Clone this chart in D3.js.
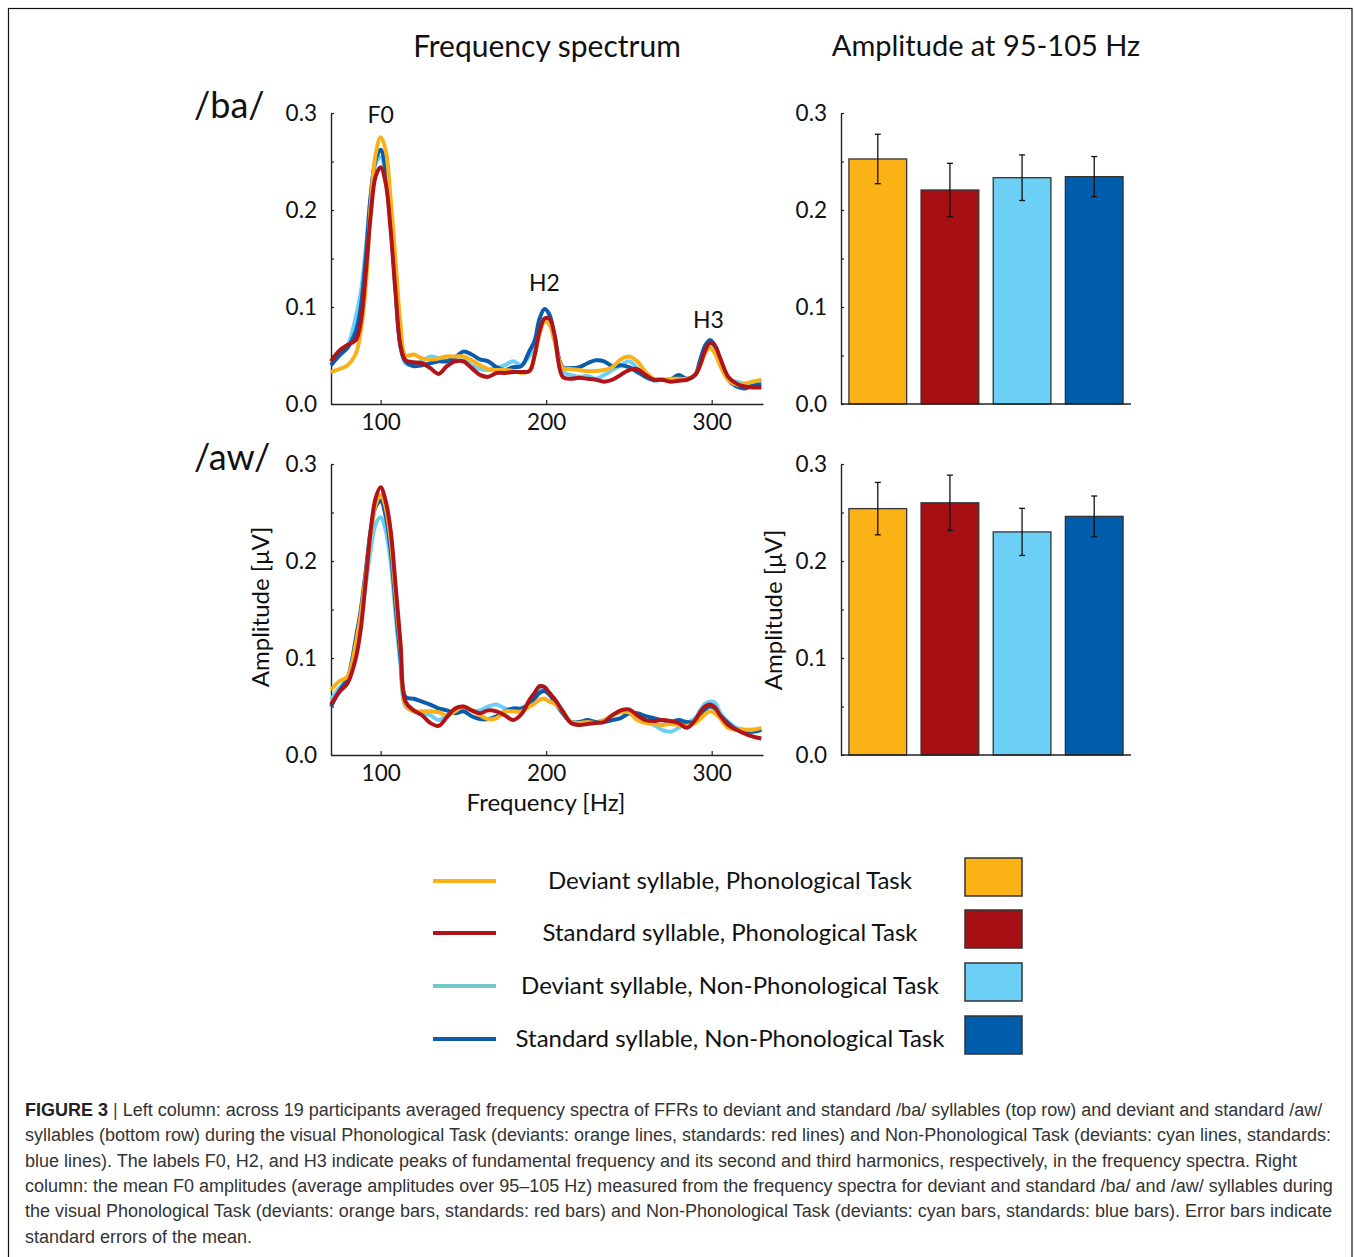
<!DOCTYPE html>
<html>
<head>
<meta charset="utf-8">
<script src="https://cdn.jsdelivr.net/npm/d3@7"></script>
<style>
  html, body { margin: 0; padding: 0; background: #fff; }
  svg { display: block; }
  .chart text { font-family: Lato, "Noto Sans", sans-serif; fill: #111; }
  .cap text { font-family: "Liberation Sans", Arial, sans-serif; fill: #333; }
</style>
</head>
<body>
<svg id="fig" width="1354" height="1257"></svg>
<script>
// ---------------- DATA ----------------
const freqs = [70,75,80,85,88,91,94,97,100,103,106,109,112,115,
  120,125,130,135,140,145,150,155,160,165,170,175,180,185,190,
  193,196,199,202,205,
  210,215,220,225,230,235,240,245,250,255,260,265,270,275,280,285,290,
  293,296,299,302,305,
  310,315,320,325,330];

// /ba/ spectra
const baDevPhon = [.033,.036,.040,.052,.075,.120,.205,.258,.275,.262,.212,.148,.082,.050,
  .051,.047,.046,.047,.049,.049,.049,.045,.040,.036,.035,.035,.034,.032,.035,
  .050,.072,.085,.082,.065,
  .037,.036,.035,.034,.034,.035,.038,.046,.049,.044,.033,.026,.025,.026,.026,.026,.030,
  .040,.052,.058,.052,.040,
  .025,.020,.021,.023,.025];
const baStdPhon = [.044,.055,.061,.066,.085,.135,.195,.235,.244,.228,.180,.115,.060,.045,
  .043,.042,.037,.031,.039,.044,.044,.037,.030,.028,.032,.032,.033,.033,.034,
  .050,.075,.088,.088,.072,
  .028,.026,.027,.026,.025,.023,.025,.030,.035,.036,.030,.025,.025,.023,.024,.025,.030,
  .040,.055,.063,.060,.048,
  .028,.021,.018,.017,.017];
const baDevNon = [.042,.052,.060,.090,.115,.160,.215,.248,.255,.235,.185,.115,.058,.042,
  .040,.044,.049,.047,.044,.044,.045,.040,.036,.035,.037,.040,.044,.040,.050,
  .060,.080,.088,.084,.066,
  .033,.030,.028,.029,.026,.030,.035,.040,.044,.037,.028,.024,.025,.024,.025,.025,.030,
  .045,.057,.062,.057,.042,
  .026,.023,.021,.023,.023];
const baStdNon = [.040,.050,.058,.075,.100,.150,.215,.252,.262,.242,.190,.120,.060,.044,
  .039,.040,.042,.044,.044,.048,.054,.051,.046,.044,.038,.035,.038,.039,.055,
  .065,.088,.098,.092,.070,
  .038,.037,.038,.042,.045,.044,.039,.040,.038,.033,.028,.025,.025,.025,.030,.026,.030,
  .045,.060,.066,.060,.045,
  .025,.018,.016,.019,.020];

// /aw/ spectra
const awDevPhon = [.067,.076,.081,.115,.145,.185,.228,.258,.268,.255,.222,.165,.110,.052,
  .045,.045,.045,.044,.041,.045,.050,.046,.041,.037,.038,.045,.045,.045,.050,
  .053,.057,.058,.055,.053,
  .045,.034,.033,.034,.033,.036,.041,.044,.044,.036,.033,.032,.031,.032,.031,.030,.033,
  .037,.042,.045,.043,.038,
  .028,.026,.026,.026,.028];
const awStdPhon = [.052,.065,.074,.100,.130,.180,.232,.265,.276,.262,.232,.175,.115,.055,
  .046,.041,.033,.030,.039,.048,.050,.046,.043,.046,.045,.041,.036,.042,.057,
  .064,.071,.070,.064,.058,
  .045,.033,.031,.032,.033,.034,.041,.046,.047,.041,.036,.035,.036,.035,.033,.028,.036,
  .044,.050,.052,.049,.041,
  .031,.026,.022,.019,.017];
const awDevNon = [.057,.069,.079,.110,.140,.175,.212,.238,.245,.232,.200,.145,.092,.050,
  .045,.043,.041,.036,.041,.046,.048,.046,.046,.050,.052,.048,.046,.045,.055,
  .060,.067,.068,.064,.057,
  .046,.034,.033,.034,.034,.036,.041,.044,.043,.038,.036,.031,.026,.024,.028,.033,.038,
  .046,.053,.055,.054,.044,
  .034,.028,.026,.026,.026];
const awStdNon = [.050,.066,.079,.120,.150,.190,.232,.256,.262,.247,.212,.155,.100,.060,
  .058,.055,.052,.048,.046,.043,.045,.040,.037,.037,.040,.045,.048,.048,.053,
  .058,.064,.066,.062,.055,
  .043,.034,.034,.036,.034,.034,.036,.038,.043,.043,.040,.038,.036,.034,.036,.034,.034,
  .040,.047,.050,.048,.041,
  .033,.026,.025,.024,.026];

// mean F0 amplitude (95-105 Hz) and standard errors
const conditions = ["Deviant syllable, Phonological Task", "Standard syllable, Phonological Task",
  "Deviant syllable, Non-Phonological Task", "Standard syllable, Non-Phonological Task"];
const baMeans = [0.2526, 0.2206, 0.2333, 0.2344];
const baSE    = [0.0255, 0.0275, 0.0235, 0.0207];
const awMeans = [0.254, 0.260, 0.230, 0.246];
const awSE    = [0.027, 0.0285, 0.0243, 0.021];

const lineColors = ["#f9b11a", "#b01419", "#6dcff6", "#0a5dab"];
const legendLineColors = ["#f9b11a", "#b01419", "#72c9c8", "#0a5dab"];
const barColors = ["#fbb217", "#a60f14", "#6ccff5", "#005dab"];

const yTicks = [0, 0.05, 0.1, 0.15, 0.2, 0.25, 0.3];
const xTicks = [100, 200, 300];
const peakLabels = [{t:"F0", f:100, v:0.298}, {t:"H2", f:199, v:0.125}, {t:"H3", f:298, v:0.087}];

// ---------------- DRAW ----------------
const svg = d3.select("#fig");
svg.append("rect").attr("x",0).attr("y",0).attr("width",1354).attr("height",1257).attr("fill","#fff");
svg.append("rect").attr("x",8.5).attr("y",8.5).attr("width",1343.5).attr("height",1262)
  .attr("fill","none").attr("stroke","#111").attr("stroke-width",1.2);

const chart = svg.append("g").attr("class","chart");

const x = d3.scaleLinear().domain([70, 331]).range([331, 763]);
const yTop = d3.scaleLinear().domain([0, 0.3]).range([404, 113]);
const yBot = d3.scaleLinear().domain([0, 0.3]).range([755, 464]);
const xb = d3.scaleBand().domain(d3.range(4)).range([841, 1131]).paddingInner(0.2).paddingOuter(0.11);

const fmtY = d => (Math.abs(d*10 - Math.round(d*10)) < 1e-6) ? d.toFixed(1) : "";

function styleAxis(g) {
  g.selectAll("path.domain").attr("stroke","#222").attr("stroke-width",1.4);
  g.selectAll(".tick line").attr("stroke","#222").attr("stroke-width",1.2);
  g.selectAll("text").attr("font-family","Lato, 'Noto Sans', sans-serif").attr("fill","#111");
}

function spectrumPanel(y, series, axisX) {
  const g = chart.append("g");
  const ya = g.append("g").attr("transform",`translate(${axisX},0)`)
    .call(d3.axisLeft(y).tickValues(yTicks).tickFormat(fmtY).tickSizeInner(-3).tickSizeOuter(0).tickPadding(14));
  ya.selectAll("text").attr("font-size",22.5);
  styleAxis(ya);
  const xa = g.append("g").attr("transform",`translate(0,${y(0)})`)
    .call(d3.axisBottom(x).tickValues(xTicks).tickSizeInner(-4).tickSizeOuter(0).tickPadding(10));
  xa.selectAll("text").attr("font-size",22.5);
  styleAxis(xa);
  const line = d3.line().x((d,i)=>x(freqs[i])).y(d=>y(d)).curve(d3.curveCatmullRom.alpha(0.5));
  const order = [2,3,0,1];
  order.forEach(k => {
    g.append("path").attr("d", line(series[k])).attr("fill","none")
      .attr("stroke", lineColors[k]).attr("stroke-width",4).attr("stroke-linejoin","round");
  });
  return g;
}

function barPanel(y, means, se) {
  const g = chart.append("g");
  const ya = g.append("g").attr("transform",`translate(841,0)`)
    .call(d3.axisLeft(y).tickValues(yTicks).tickFormat(fmtY).tickSizeInner(-3).tickSizeOuter(0).tickPadding(14));
  ya.selectAll("text").attr("font-size",22.5);
  styleAxis(ya);
  g.selectAll("rect.bar").data(means).join("rect")
    .attr("x",(d,i)=>xb(i)).attr("width",xb.bandwidth())
    .attr("y",d=>y(d)).attr("height",d=>y(0)-y(d))
    .attr("fill",(d,i)=>barColors[i]).attr("stroke","#333").attr("stroke-width",1.3);
  g.append("line").attr("x1",841).attr("x2",1131).attr("y1",y(0)).attr("y2",y(0))
    .attr("stroke","#222").attr("stroke-width",1.4);
  means.forEach((m,i)=>{
    const cx = xb(i) + xb.bandwidth()/2;
    const eb = g.append("g").attr("stroke","#111").attr("stroke-width",1.3);
    eb.append("line").attr("x1",cx).attr("x2",cx).attr("y1",y(m-se[i])).attr("y2",y(m+se[i]));
    eb.append("line").attr("x1",cx-3).attr("x2",cx+3).attr("y1",y(m-se[i])).attr("y2",y(m-se[i]));
    eb.append("line").attr("x1",cx-3).attr("x2",cx+3).attr("y1",y(m+se[i])).attr("y2",y(m+se[i]));
  });
}

spectrumPanel(yTop, [baDevPhon, baStdPhon, baDevNon, baStdNon], 331);
spectrumPanel(yBot, [awDevPhon, awStdPhon, awDevNon, awStdNon], 331);
barPanel(yTop, baMeans, baSE);
barPanel(yBot, awMeans, awSE);

peakLabels.forEach(p => {
  chart.append("text").attr("x", x(p.f)).attr("y", yTop(p.v)).attr("dy","0.35em")
    .attr("text-anchor","middle").attr("font-size",23).text(p.t);
});

chart.append("text").attr("x",547).attr("y",46).attr("dy","0.35em").attr("text-anchor","middle")
  .attr("font-size",30).text("Frequency spectrum");
chart.append("text").attr("x",986).attr("y",46).attr("dy","0.35em").attr("text-anchor","middle")
  .attr("font-size",29).text("Amplitude at 95-105 Hz");
chart.append("text").attr("x",194).attr("y",105).attr("dy","0.35em").attr("font-size",36).text("/ba/");
chart.append("text").attr("x",194).attr("y",457).attr("dy","0.35em").attr("font-size",36).text("/aw/");

chart.append("text").attr("transform","translate(261,607) rotate(-90)").attr("dy","0.35em")
  .attr("text-anchor","middle").attr("font-size",24).text("Amplitude [μV]");
chart.append("text").attr("transform","translate(774,610) rotate(-90)").attr("dy","0.35em")
  .attr("text-anchor","middle").attr("font-size",24).text("Amplitude [μV]");
chart.append("text").attr("x",546).attr("y",803).attr("dy","0.35em").attr("text-anchor","middle")
  .attr("font-size",24).text("Frequency [Hz]");

const legY = [881, 933, 986, 1039];
conditions.forEach((c,i)=>{
  chart.append("line").attr("x1",433).attr("x2",496).attr("y1",legY[i]).attr("y2",legY[i])
    .attr("stroke",legendLineColors[i]).attr("stroke-width",4);
  chart.append("text").attr("x",730).attr("y",legY[i]).attr("dy","0.35em").attr("text-anchor","middle")
    .attr("font-size",24).text(c);
  chart.append("rect").attr("x",965).attr("y",legY[i]-23).attr("width",57).attr("height",38)
    .attr("fill",barColors[i]).attr("stroke","#333").attr("stroke-width",1.5);
});

const capLines = [
  "Left column: across 19 participants averaged frequency spectra of FFRs to deviant and standard /ba/ syllables (top row) and deviant and standard /aw/",
  "syllables (bottom row) during the visual Phonological Task (deviants: orange lines, standards: red lines) and Non-Phonological Task (deviants: cyan lines, standards:",
  "blue lines). The labels F0, H2, and H3 indicate peaks of fundamental frequency and its second and third harmonics, respectively, in the frequency spectra. Right",
  "column: the mean F0 amplitudes (average amplitudes over 95–105 Hz) measured from the frequency spectra for deviant and standard /ba/ and /aw/ syllables during",
  "the visual Phonological Task (deviants: orange bars, standards: red bars) and Non-Phonological Task (deviants: cyan bars, standards: blue bars). Error bars indicate",
  "standard errors of the mean."
];
const cap = svg.append("g").attr("class","cap");
capLines.forEach((l,i)=>{
  const t = cap.append("text").attr("x",25).attr("y",1116 + i*25.3).attr("font-size",18);
  if (i === 0) {
    t.append("tspan").attr("font-weight","bold").attr("fill","#222").text("FIGURE 3");
    t.append("tspan").attr("fill","#444").text("  |  ");
  }
  t.append("tspan").text(l);
});
</script>
</body>
</html>
